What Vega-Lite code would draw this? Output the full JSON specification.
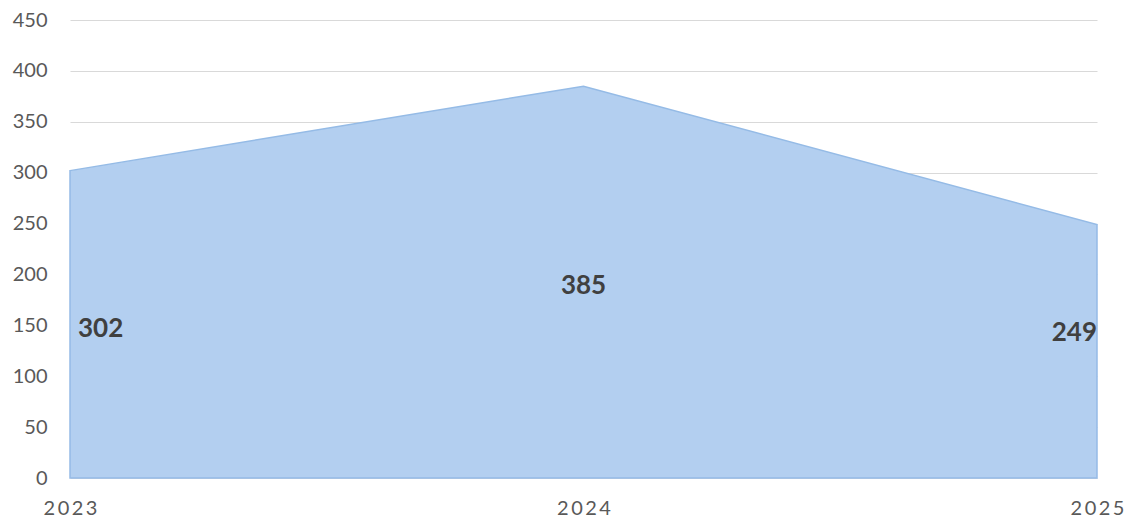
{
  "$schema": "https://vega.github.io/schema/vega-lite/v6.json",
  "width": 1027,
  "height": 458,
  "autosize": {"type": "none"},
  "padding": {"left": 70, "top": 20, "right": 31, "bottom": 42},
  "background": "white",
  "config": {
    "view": {"stroke": null},
    "font": "Lato"
  },
  "data": {
    "values": [
      {"year": "2023", "value": 302},
      {"year": "2024", "value": 385},
      {"year": "2025", "value": 249}
    ]
  },
  "encoding": {
    "x": {
      "field": "year",
      "type": "ordinal",
      "scale": {"type": "point", "padding": 0},
      "axis": {
        "title": null,
        "labelAngle": 0,
        "domain": false,
        "ticks": false,
        "labelFontSize": 20,
        "labelColor": "#595959",
        "labelPadding": 20,
        "labelFont": "Lato",
        "labelExpr": "replace(datum.label, regexp('(\\\\d)(?=\\\\d)', 'g'), '$1\u2009')"
      }
    }
  },
  "layer": [
    {
      "mark": {"type": "area", "color": "#b3cff0", "stroke": "#95bbe6", "strokeWidth": 1.5, "interpolate": "linear"},
      "encoding": {
        "y": {
          "field": "value",
          "type": "quantitative",
          "scale": {"domain": [0, 450]},
          "axis": {
            "title": null,
            "values": [0, 50, 100, 150, 200, 250, 300, 350, 400, 450],
            "domain": false,
            "ticks": false,
            "grid": true,
            "gridColor": "#d9d9d9",
            "gridWidth": 1.2,
            "labelFontSize": 20,
            "labelColor": "#595959",
            "labelPadding": 23,
            "labelFont": "Lato"
          }
        }
      }
    },
    {
      "transform": [{"filter": "datum.year == '2023'"}, {"calculate": "datum.value / 2", "as": "mid"}],
      "mark": {"type": "text", "align": "left", "baseline": "middle", "dx": 8, "dy": 5, "fontSize": 26, "fontWeight": "bold", "color": "#404040"},
      "encoding": {
        "y": {"field": "mid", "type": "quantitative"},
        "text": {"field": "value", "type": "quantitative"}
      }
    },
    {
      "transform": [{"filter": "datum.year == '2024'"}, {"calculate": "datum.value / 2", "as": "mid"}],
      "mark": {"type": "text", "align": "center", "baseline": "middle", "dy": 4, "fontSize": 26, "fontWeight": "bold", "color": "#404040"},
      "encoding": {
        "y": {"field": "mid", "type": "quantitative"},
        "text": {"field": "value", "type": "quantitative"}
      }
    },
    {
      "transform": [{"filter": "datum.year == '2025'"}, {"calculate": "datum.value / 2", "as": "mid"}],
      "mark": {"type": "text", "align": "right", "baseline": "middle", "dy": -18, "fontSize": 26, "fontWeight": "bold", "color": "#404040"},
      "encoding": {
        "y": {"field": "mid", "type": "quantitative"},
        "text": {"field": "value", "type": "quantitative"}
      }
    }
  ]
}
